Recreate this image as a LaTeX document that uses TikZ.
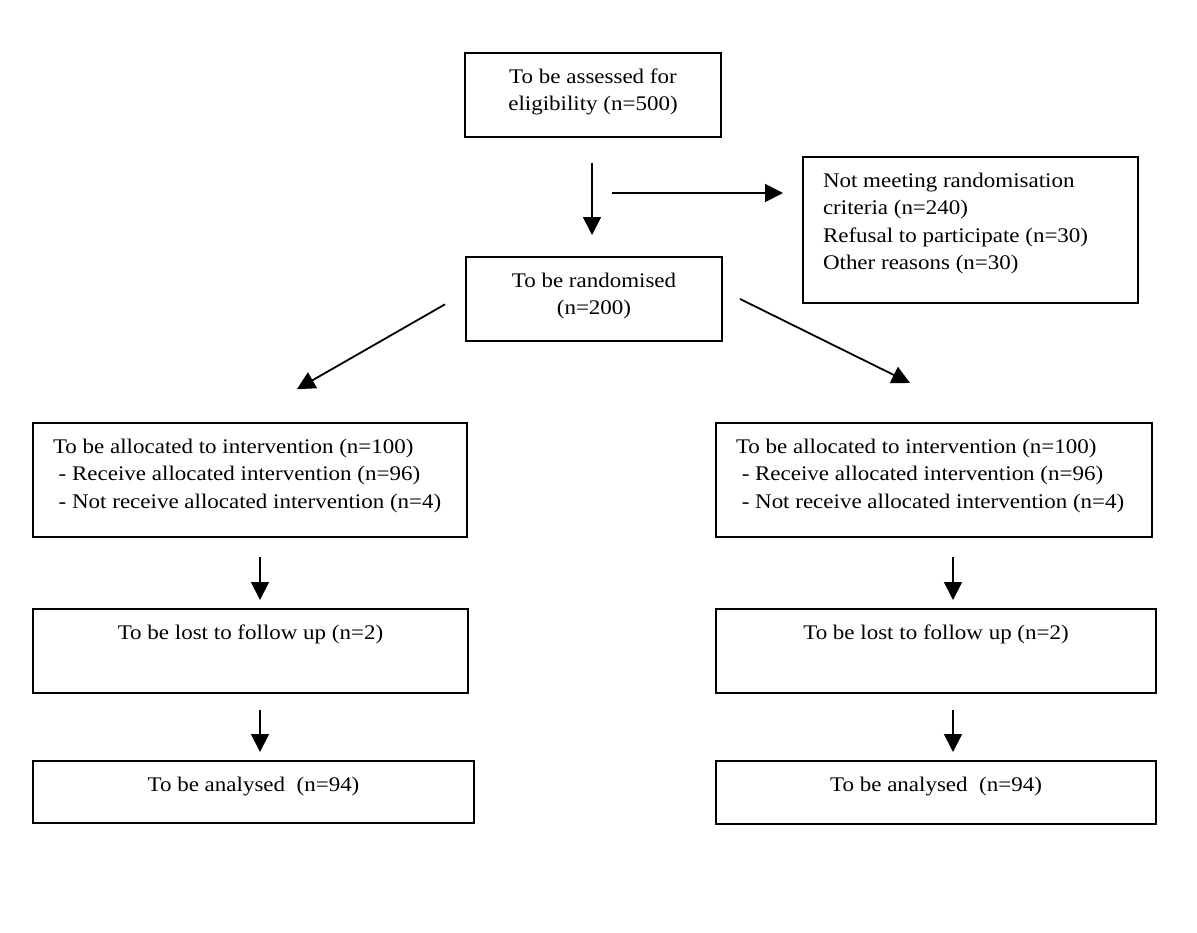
\documentclass[tikz,border=0pt]{standalone}
\usepackage{fontspec}
\setmainfont{Liberation Serif}[FakeStretch=1.105]
\usetikzlibrary{arrows.meta,calc}

\tikzset{
  flowbox/.style={draw, line width=1pt, inner sep=0pt, outer sep=0pt, anchor=north west,
    font=\fontsize{10.4}{13.75}\selectfont},
  arr/.style={-{Triangle[length=9pt,width=9pt]}, line width=0.9pt},
}
% box text: width, height, text (first baseline 15pt below the top)
\newcommand{\midtext}[3]{\parbox[t][#2][t]{#1}{\centering\rule{0pt}{15pt}#3}}
\newcommand{\lefttext}[3]{\parbox[t][#2][t]{#1}{\raggedright\leftskip=10pt\rule{0pt}{15pt}#3}}

\begin{document}
\begin{tikzpicture}[x=0.5pt,y=-0.5pt]
  \fill[white] (0,0) rectangle (1197,932);
  % top of the chart
  \node[flowbox] (assess) at (465,53) {\midtext{128pt}{42pt}{To be assessed for\\eligibility (n=500)}};
  \node[flowbox] (rand) at (466,257) {\midtext{128pt}{42pt}{To be randomised\\(n=200)}};
  \node[flowbox] (excl) at (803,157) {\lefttext{167.5pt}{73pt}{Not meeting randomisation\\criteria (n=240)\\Refusal to participate (n=30)\\Other reasons (n=30)}};
  % left arm
  \node[flowbox] (allocL) at (33,423) {\lefttext{217pt}{57pt}{To be allocated to intervention (n=100)\\~- Receive allocated intervention (n=96)\\~- Not receive allocated intervention (n=4)}};
  \node[flowbox] (lostL) at (33,609) {\midtext{217.5pt}{42pt}{To be lost to follow up (n=2)}};
  \node[flowbox] (analL) at (33,761) {\midtext{220.5pt}{31pt}{To be analysed~~(n=94)}};
  % right arm
  \node[flowbox] (allocR) at (716,423) {\lefttext{218pt}{57pt}{To be allocated to intervention (n=100)\\~- Receive allocated intervention (n=96)\\~- Not receive allocated intervention (n=4)}};
  \node[flowbox] (lostR) at (716,609) {\midtext{220pt}{42pt}{To be lost to follow up (n=2)}};
  \node[flowbox] (analR) at (716,761) {\midtext{220pt}{31.5pt}{To be analysed~~(n=94)}};

  \coordinate (split) at ($(assess.south)+(-1,56)$);
  \draw[arr, shorten <=12.85pt, shorten >=11pt] ($(assess.south)+(-1,0)$) -- (split |- rand.north);
  \draw[arr, shorten <=10pt, shorten >=10pt] (split) -- (split -| excl.west);
  \draw[arr, shorten <=12.1pt, shorten >=34pt] (rand.177) -- (allocL.102);
  \draw[arr, shorten <=10pt, shorten >=45.2pt] (rand.4) -- (allocR.45.5);

  \coordinate (downL) at ($(allocL.south)+(10,0)$);
  \coordinate (downR) at ($(allocR.south)+(19,0)$);
  \draw[arr, shorten <=10pt, shorten >=4.5pt] (downL) -- (downL |- lostL.north);
  \draw[arr, shorten <=8.5pt, shorten >=4.5pt] (downL |- lostL.south) -- (downL |- analL.north);
  \draw[arr, shorten <=10pt, shorten >=4.5pt] (downR) -- (downR |- lostR.north);
  \draw[arr, shorten <=8.5pt, shorten >=4.5pt] (downR |- lostR.south) -- (downR |- analR.north);
\end{tikzpicture}
\end{document}
